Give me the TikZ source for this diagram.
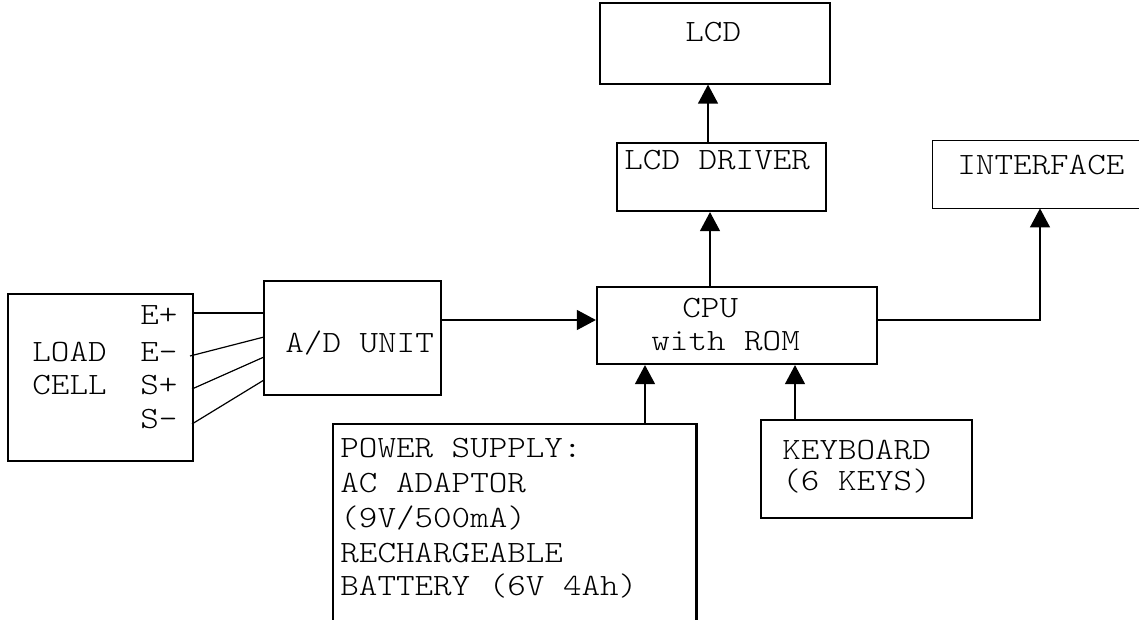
\documentclass[tikz,border=0pt]{standalone}
\usepackage{fontspec}
\setmainfont{Liberation Mono}
\newfontfamily\courlike{lmmonolt10-regular.otf}[FakeStretch=1.14]
\usetikzlibrary{arrows.meta,fit}
\begin{document}
\begin{tikzpicture}[x=0.5pt,y=-0.5pt,
  thinbox/.style={draw,line width=0.6pt,inner sep=0pt},
  thickbox/.style={draw,line width=1.1pt,inner sep=0pt},
  openbox/.style={inner sep=0pt},
  txt/.style={anchor=base west,inner sep=0pt,font=\courlike\fontsize{15.5pt}{17.5pt}\selectfont},
  arr/.style={line width=0.6pt,-{Triangle[width=10pt,length=9.5pt]}},
  wire/.style={line width=0.6pt}]
\useasboundingbox (0,0) rectangle (1139,620);
% boxes
\node[thinbox,fit={(600,3) (830,84)}] (lcd) {};
\node[thickbox,fit={(617,143) (826,211)}] (drv) {};
\node[openbox,fit={(933,141) (1139,208)}] (intf) {};
\draw[line width=0.6pt] (intf.north east) -- (intf.north west) -- (intf.south west) -- (intf.south east);
\node[thickbox,fit={(597,287) (877,364)}] (cpu) {};
\node[thinbox,fit={(264,281) (441,395)}] (ad) {};
\node[thickbox,fit={(8,294) (193,461)}] (lc) {};
\node[openbox,fit={(333,424) (696,620)}] (ps) {};
\draw[line width=1.1pt] (ps.south west) -- (ps.north west) -- (ps.north east) -- (ps.south east);
\node[thinbox,fit={(761,420) (972,518)}] (kb) {};
% texts
\node[txt] (tlcd) at (685,42) {LCD};
\node[txt] (tdrv) at (624,170) {LCD DRIVER};
\node[txt] (tintf) at (957,175) {INTERFACE};
\node[txt] (tcpu1) at (682,317) {CPU};
\node[txt] (tcpu2) at (651,350) {with ROM};
\node[txt] (tad) at (285,352) {A/D UNIT};
\node[txt] (tload) at (32,361) {LOAD};
\node[txt] (tcell) at (32,394) {CELL};
\node[txt] (tep) at (140,324) {E+};
\node[txt] (tem) at (140,361) {E-};
\node[txt] (tsp) at (140,394) {S+};
\node[txt] (tsm) at (140,428) {S-};
\node[txt] (tps1) at (340,457) {POWER SUPPLY:};
\node[txt] (tps2) at (340,492) {AC ADAPTOR};
\node[txt] (tps3) at (340,527) {(9V/500mA)};
\node[txt] (tps4) at (340,562) {RECHARGEABLE};
\node[txt] (tps5) at (340,595) {BATTERY (6V 4Ah)};
\node[txt] (tkb1) at (782,459) {KEYBOARD};
\node[txt] (tkb2) at (782,490) {(6 KEYS)};
% helper coordinates
\coordinate (xa) at (708,0);
\coordinate (xb) at (710,0);
\coordinate (xi) at (1040,0);
\coordinate (yc) at (0,320);
\coordinate (yi) at (0,320);
\coordinate (xp) at (645,0);
\coordinate (xk) at (795,0);
% connectors
\draw[arr] (drv.north -| xa) -- (lcd.south -| xa);
\draw[arr] (cpu.north -| xb) -- (drv.south -| xb);
\draw[arr] (cpu.east |- yi) -| (intf.south -| xi);
\draw[arr] (ad.east |- yc) -- (cpu.west |- yc);
\draw[arr] (ps.north -| xp) -- (cpu.south -| xp);
\draw[arr] (kb.north -| xk) -- (cpu.south -| xk);
% load cell wires
\coordinate (w1a) at (193,313); \coordinate (w1b) at (264,313);
\coordinate (w2a) at (190,356); \coordinate (w2b) at (264,337);
\coordinate (w3a) at (192,389); \coordinate (w3b) at (264,357);
\coordinate (w4a) at (192,424); \coordinate (w4b) at (264,380);
\draw[wire] (w1a) -- (w1b);
\draw[wire] (w2a) -- (w2b);
\draw[wire] (w3a) -- (w3b);
\draw[wire] (w4a) -- (w4b);
\end{tikzpicture}
\end{document}
